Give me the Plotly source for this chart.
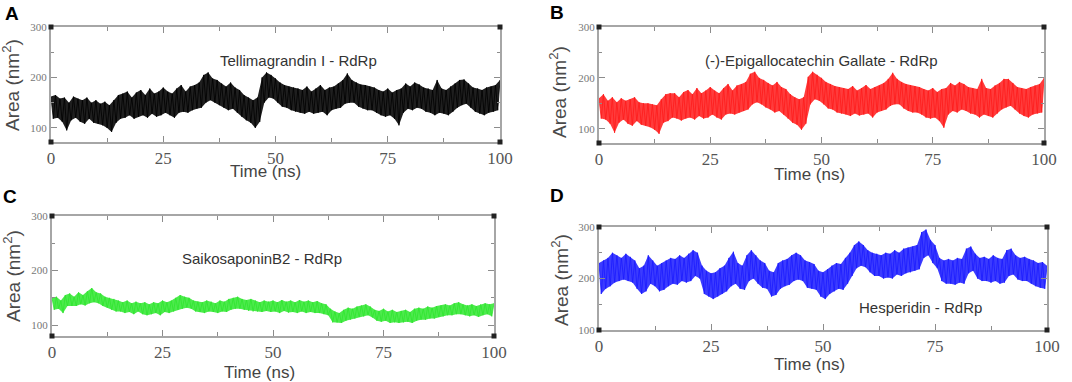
import plotly.graph_objects as go

# ---- data (area in nm^2, sampled every 0.5 ns; values alternate between the upper and lower edge of the noisy trace) ----
time_ns = [i * 0.5 for i in range(201)]

area_tellimagrandin = [
    162, 118, 165, 120, 158, 112, 160, 95, 150, 115, 162, 120, 158, 112, 155, 108, 160, 118, 150, 110,
    155, 108, 148, 105, 152, 100, 145, 92, 155, 110, 165, 118, 168, 120, 172, 125, 160, 118, 170, 122,
    175, 125, 165, 120, 178, 128, 168, 122, 172, 125, 180, 130, 172, 125, 168, 120, 178, 130, 185, 132,
    172, 130, 182, 135, 185, 138, 190, 140, 205, 150, 210, 155, 198, 150, 195, 145, 188, 140, 182, 135,
    190, 138, 180, 130, 175, 122, 165, 115, 160, 110, 155, 100, 160, 112, 200, 150, 210, 160, 205, 158,
    198, 150, 190, 142, 185, 140, 182, 135, 180, 132, 178, 130, 175, 128, 182, 132, 172, 128, 178, 130,
    185, 132, 175, 125, 180, 135, 182, 138, 188, 140, 195, 148, 208, 150, 195, 150, 190, 142, 186, 138,
    185, 135, 182, 135, 180, 130, 175, 125, 172, 122, 178, 125, 170, 118, 175, 105, 178, 130, 188, 138,
    182, 135, 190, 140, 186, 138, 180, 132, 178, 130, 175, 125, 195, 130, 178, 128, 175, 125, 182, 132,
    188, 140, 195, 145, 196, 148, 188, 140, 180, 132, 178, 128, 175, 125, 180, 130, 182, 132, 185, 135,
    195,
]

area_egcg = [
    160, 120, 168, 118, 155, 110, 162, 92, 152, 112, 160, 118, 155, 110, 158, 106, 162, 115, 152, 108,
    150, 106, 150, 103, 148, 98, 146, 90, 158, 112, 168, 115, 170, 122, 170, 120, 162, 116, 172, 120,
    176, 122, 168, 118, 180, 125, 170, 120, 175, 122, 182, 128, 175, 122, 170, 118, 180, 128, 188, 130,
    175, 128, 185, 132, 188, 135, 192, 138, 208, 148, 212, 152, 200, 148, 196, 142, 190, 138, 185, 132,
    192, 135, 182, 128, 178, 120, 168, 112, 162, 108, 158, 98, 162, 110, 202, 148, 212, 158, 206, 155,
    200, 148, 192, 140, 188, 138, 184, 132, 182, 130, 180, 128, 178, 125, 184, 130, 175, 126, 180, 128,
    186, 130, 178, 122, 182, 132, 185, 135, 190, 138, 198, 145, 210, 148, 198, 148, 192, 140, 188, 135,
    186, 132, 184, 132, 182, 128, 178, 122, 175, 120, 180, 122, 172, 115, 178, 102, 180, 128, 190, 135,
    185, 132, 192, 138, 188, 135, 182, 130, 180, 128, 178, 122, 198, 128, 180, 125, 178, 122, 185, 130,
    190, 138, 198, 142, 198, 145, 190, 138, 182, 130, 180, 125, 178, 122, 182, 128, 185, 130, 188, 132,
    200,
]

area_saikosaponin = [
    150, 128, 152, 130, 145, 122, 155, 135, 158, 135, 152, 135, 160, 138, 155, 136, 162, 140, 168, 142,
    160, 140, 158, 135, 152, 132, 150, 128, 148, 125, 145, 125, 142, 122, 145, 124, 140, 120, 143, 125,
    140, 120, 142, 118, 138, 120, 142, 122, 140, 118, 145, 124, 142, 122, 145, 125, 150, 128, 155, 130,
    152, 132, 150, 130, 145, 125, 143, 124, 142, 122, 145, 125, 143, 124, 140, 122, 145, 125, 143, 124,
    148, 128, 150, 130, 152, 130, 148, 128, 146, 126, 148, 125, 145, 125, 142, 124, 145, 126, 143, 124,
    145, 125, 142, 122, 146, 126, 143, 123, 145, 124, 142, 122, 146, 125, 143, 122, 145, 124, 142, 122,
    144, 122, 140, 120, 138, 118, 130, 105, 125, 105, 122, 104, 128, 108, 132, 110, 130, 112, 134, 115,
    136, 116, 138, 118, 134, 114, 128, 108, 126, 106, 130, 108, 125, 104, 128, 105, 124, 104, 126, 105,
    128, 106, 124, 104, 130, 108, 132, 110, 130, 110, 134, 112, 132, 112, 135, 115, 136, 116, 138, 118,
    136, 118, 140, 120, 142, 120, 138, 118, 136, 116, 138, 118, 135, 115, 138, 118, 140, 120, 138, 116,
    140,
]

area_hesperidin = [
    230, 170, 235, 180, 240, 185, 250, 192, 245, 195, 240, 198, 248, 195, 242, 192, 235, 180, 220, 170,
    225, 175, 245, 190, 235, 185, 225, 175, 230, 178, 235, 185, 240, 190, 238, 188, 245, 195, 240, 192,
    248, 195, 255, 205, 250, 200, 225, 170, 215, 165, 210, 160, 212, 165, 220, 170, 225, 175, 240, 185,
    252, 190, 230, 180, 225, 178, 245, 195, 255, 200, 245, 190, 235, 182, 230, 180, 215, 165, 212, 168,
    230, 180, 235, 185, 238, 188, 245, 195, 250, 198, 245, 195, 235, 182, 232, 180, 228, 178, 215, 165,
    212, 160, 218, 170, 225, 175, 230, 180, 228, 178, 240, 190, 250, 205, 265, 220, 272, 225, 265, 222,
    255, 212, 250, 205, 248, 205, 245, 200, 250, 202, 248, 200, 255, 208, 250, 205, 258, 210, 260, 212,
    262, 215, 265, 218, 290, 240, 295, 245, 275, 230, 265, 220, 240, 195, 235, 190, 238, 190, 235, 188,
    240, 192, 238, 190, 258, 210, 262, 215, 248, 200, 240, 195, 242, 195, 238, 192, 245, 195, 240, 190,
    238, 192, 255, 205, 258, 208, 245, 198, 240, 195, 242, 195, 238, 190, 235, 185, 230, 182, 232, 180,
    225,
]

panel_letters = ["A", "B", "C", "D"]
panel_titles = ["Tellimagrandin I - RdRp", "(-)-Epigallocatechin Gallate - RdRp",
                "SaikosaponinB2 - RdRp", "Hesperidin - RdRp"]
series = [area_tellimagrandin, area_egcg, area_saikosaponin, area_hesperidin]
colors = ["#000000", "#ff1a1a", "#2ee62e", "#1a1aff"]
fills = ["rgba(0,0,0,0.88)", "rgba(255,26,26,0.85)", "rgba(46,230,46,0.85)", "rgba(26,26,255,0.85)"]
y_ranges = [[72, 300], [72, 300], [80, 300], [100, 300]]
x_ticks = [0, 25, 50, 75, 100]
y_ticks = [100, 200, 300]

# ---- layout geometry (pixels in a 1072x382 canvas) ----
W, H = 1072, 382
boxes = [  # left, right, top, bottom
    (51, 500, 27, 142),
    (599, 1044, 27, 143),
    (52, 494, 216, 336),
    (599, 1047, 227, 330),
]
title_pos = [(298, 60), (821, 60), (262, 258), (920, 307)]
letter_pos = [(12, 13), (557, 12), (10, 196), (557, 195)]
ytitle_pos = [(11, 85), (558, 92), (12, 276), (560, 280)]
xtitle_pos = [(265, 171), (809, 174), (259, 372), (809, 364)]

fig = go.Figure()
AX_COLOR = "#a6a6a6"


def add_text(px, py, text, font, angle=0):
    fig.add_annotation(x=px / W, y=1 - py / H, xref="paper", yref="paper", text=text,
                       xanchor="center", yanchor="middle", textangle=angle,
                       showarrow=False, font=font)


for i in range(4):
    sfx = "" if i == 0 else str(i + 1)
    vals = series[i]
    assert len(vals) == len(time_ns)
    # filled band: upper edge (even samples) forward, lower edge (odd samples) backward
    up_t, up_v = time_ns[0::2], vals[0::2]
    lo_t, lo_v = time_ns[1::2], vals[1::2]
    fig.add_trace(go.Scatter(
        x=list(up_t) + list(lo_t[::-1]), y=list(up_v) + list(lo_v[::-1]),
        mode="lines", fill="toself", fillcolor=fills[i], line=dict(width=0),
        xaxis="x" + sfx, yaxis="y" + sfx, showlegend=False, hoverinfo="skip",
    ))
    fig.add_trace(go.Scatter(
        x=time_ns, y=vals, mode="lines",
        line=dict(color=colors[i], width=0.8),
        xaxis="x" + sfx, yaxis="y" + sfx, showlegend=False, hoverinfo="skip",
    ))
    l, r, t, b = boxes[i]
    common = dict(
        showgrid=False, zeroline=False, showline=True, linecolor=AX_COLOR, linewidth=2,
        mirror="allticks", ticks="inside", ticklen=6, tickwidth=1, tickcolor="#8c8c8c",
        automargin=False,
    )
    fig.update_layout(**{
        "xaxis" + sfx: dict(
            domain=[l / W, r / W], anchor="y" + sfx, range=[0, 100],
            tickvals=x_ticks, ticktext=[str(v) for v in x_ticks],
            tickfont=dict(family="Liberation Serif, Times New Roman, serif", size=17, color="#555555"),
            minor=dict(dtick=12.5, tick0=0, ticks="inside", ticklen=4, tickcolor="#8c8c8c", showgrid=False),
            ticklabelstandoff=0,
            **common,
        ),
        "yaxis" + sfx: dict(
            domain=[1 - b / H, 1 - t / H], anchor="x" + sfx, range=y_ranges[i],
            tickvals=y_ticks, ticktext=[str(v) for v in y_ticks],
            tickfont=dict(family="Liberation Serif, Times New Roman, serif", size=11, color="#777777"),
            minor=dict(tickvals=[150, 250], ticks="inside", ticklen=3, tickcolor="#8c8c8c", showgrid=False),
            ticklabelstandoff=0,
            **common,
        ),
    })
    # corner squares
    for cx in (0, 1):
        for cy in (0, 1):
            fig.add_shape(type="rect", xref="x" + sfx + " domain", yref="y" + sfx + " domain",
                          xsizemode="pixel", ysizemode="pixel", xanchor=cx, yanchor=cy,
                          x0=-2.5, x1=2.5, y0=-2.5, y1=2.5,
                          fillcolor="#222222", line=dict(width=0), layer="above")
    add_text(*title_pos[i], panel_titles[i],
             dict(family="Liberation Sans, Arial, sans-serif", size=15, color="#333333"))
    add_text(*letter_pos[i], "<b>" + panel_letters[i] + "</b>",
             dict(family="Liberation Sans, Arial, sans-serif", size=19, color="#000000"))
    add_text(*ytitle_pos[i], "Area (nm<sup>2</sup>)",
             dict(family="Liberation Sans, Arial, sans-serif", size=19, color="#4a4a4a"), angle=-90)
    add_text(*xtitle_pos[i], "Time (ns)",
             dict(family="Liberation Sans Narrow, Liberation Sans, Arial, sans-serif", size=17, color="#444444"))

fig.update_layout(
    width=W, height=H, margin=dict(l=0, r=0, t=0, b=0, autoexpand=False),
    paper_bgcolor="white", plot_bgcolor="white",
)

fig.write_html("out.html", config={"displayModeBar": False},
               post_script="document.body.style.margin='0';document.body.style.overflow='hidden';")
